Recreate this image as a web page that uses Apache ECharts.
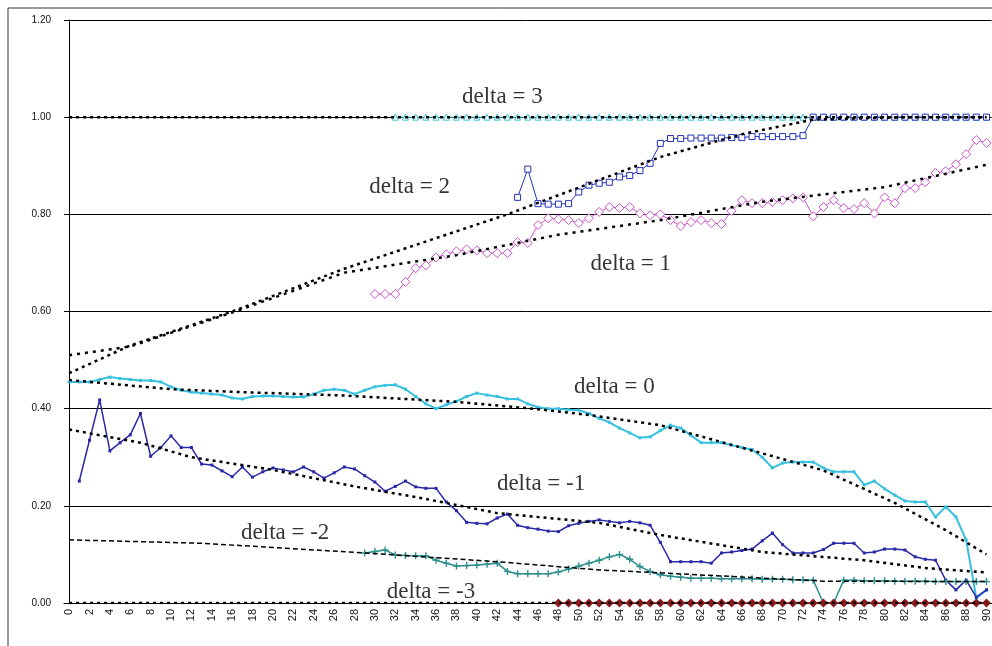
<!DOCTYPE html>
<html>
<head>
<meta charset="utf-8">
<title>delta</title>
<script src="https://cdn.jsdelivr.net/npm/echarts/dist/echarts.min.js"></script>
<style>
  html, body { margin: 0; padding: 0; background: #fff; }
  #chart { width: 992px; height: 646px; }
</style>
</head>
<body>
<div id="chart"></div>
<script>
// x categories 0..90
var xTicks = [];
for (var i = 0; i <= 90; i++) xTicks.push(String(i));

// data series (each starts at its own x)
var d3Start = 32;
var delta3 = [1.00,1.00,1.00,1.00,1.00,1.00,1.00,1.00,1.00,1.00,1.00,1.00,1.00,1.00,1.00,1.00,1.00,1.00,1.00,1.00,
  1.00,1.00,1.00,1.00,1.00,1.00,1.00,1.00,1.00,1.00,1.00,1.00,1.00,1.00,1.00,1.00,1.00,1.00,1.00,1.00,
  1.00,1.00,1.00,1.00,1.00,1.00,1.00,1.00,1.00,1.00,1.00,1.00,1.00,1.00,1.00,1.00,1.00,1.00,1.00];

var d2Start = 44;
var delta2 = [0.835,0.893,0.822,0.821,0.821,0.822,0.846,0.860,0.864,0.866,0.877,0.880,0.890,0.905,0.946,0.956,
  0.956,0.957,0.957,0.957,0.957,0.958,0.958,0.960,0.960,0.960,0.960,0.960,0.962,
  1.00,1.00,1.00,1.00,1.00,1.00,1.00,1.00,1.00,1.00,1.00,1.00,1.00,1.00,1.00,1.00,1.00,1.00];

var d1Start = 30;
var delta1 = [0.636,0.636,0.636,0.661,0.689,0.695,0.711,0.718,0.724,0.728,0.726,0.720,0.720,0.720,0.743,0.741,
  0.778,0.792,0.790,0.788,0.782,0.792,0.805,0.815,0.813,0.815,0.802,0.798,0.800,0.788,
  0.776,0.784,0.788,0.782,0.780,0.807,0.829,0.823,0.823,0.825,0.829,0.833,0.835,0.796,0.815,
  0.829,0.813,0.811,0.823,0.802,0.835,0.823,0.854,0.854,0.866,0.885,0.889,0.903,0.924,0.953,0.947];

var d0Start = 0;
var delta0 = [0.455,0.455,0.455,0.460,0.465,0.462,0.460,0.458,0.458,0.455,0.445,0.438,0.434,0.432,0.430,0.428,
  0.422,0.420,0.425,0.426,0.426,0.425,0.424,0.424,0.430,0.438,0.440,0.438,0.430,0.438,
  0.445,0.448,0.449,0.440,0.425,0.410,0.400,0.408,0.415,0.425,0.432,0.428,0.425,0.420,0.420,
  0.410,0.403,0.400,0.400,0.398,0.397,0.390,0.380,0.372,0.360,0.350,0.340,0.342,0.355,0.366,
  0.360,0.345,0.330,0.330,0.330,0.325,0.320,0.316,0.300,0.278,0.288,0.290,0.290,0.290,0.278,
  0.270,0.270,0.270,0.243,0.251,0.235,0.222,0.210,0.208,0.208,0.177,0.198,0.177,0.130,0.010,0.027];

var dm1Start = 1;
var deltaM1 = [0.251,0.335,0.418,0.313,0.330,0.346,0.390,0.302,0.320,0.344,0.320,0.320,0.286,0.284,0.272,
  0.260,0.280,0.259,0.270,0.278,0.274,0.270,0.280,0.270,0.257,0.268,0.280,0.276,0.262,
  0.249,0.230,0.240,0.251,0.239,0.236,0.236,0.208,0.190,0.166,0.164,0.163,0.175,0.183,0.160,
  0.155,0.152,0.148,0.147,0.159,0.164,0.168,0.171,0.168,0.165,0.168,0.165,0.160,0.125,0.085,
  0.085,0.085,0.085,0.082,0.103,0.105,0.108,0.111,0.128,0.144,0.120,0.103,0.103,0.103,0.110,
  0.123,0.123,0.123,0.103,0.105,0.111,0.111,0.109,0.095,0.090,0.088,0.047,0.027,0.047,0.012,0.027];

var dm2Start = 29;
var deltaM2 = [0.103,0.106,0.109,0.099,0.098,0.097,0.097,0.088,0.082,0.076,0.077,0.078,0.080,0.082,0.065,
  0.060,0.060,0.060,0.060,0.064,0.070,0.076,0.082,0.088,0.095,0.100,0.090,0.075,0.065,0.058,
  0.055,0.053,0.051,0.051,0.051,0.050,0.050,0.050,0.050,0.049,0.049,0.049,0.048,0.048,0.047,
  0.000,0.000,0.047,0.047,0.046,0.046,0.046,0.045,0.045,0.045,0.045,0.044,0.044,0.044,0.044,0.044,0.044];

var dm3Start = 48;
var deltaM3 = [0,0,0,0,0,0,0,0,0,0,0,0,0,0,0,0,0,0,0,0,0,0,0,0,0,0,0,0,0,0,0,0,0,0,0,0,0,0,0,0,0,0,0];

// trend lines, read as [x, value] knots
var trend3 = [[0, 1.00], [90, 1.00]];
var trend2 = [[0, 0.473], [6, 0.530], [16, 0.600], [27, 0.688], [43, 0.800], [58, 0.918], [66, 0.965], [73, 0.995], [82, 1.000], [90, 1.000]];
var trend1 = [[0, 0.510], [6, 0.528], [16, 0.598], [27, 0.680], [38, 0.716], [48, 0.758], [58, 0.788], [68, 0.826], [80, 0.856], [90, 0.902]];
var trend0 = [[0, 0.459], [10, 0.440], [17, 0.434], [27, 0.427], [38, 0.414], [46, 0.399], [51, 0.387], [58, 0.366], [68, 0.308], [74, 0.273], [81, 0.206], [86, 0.150], [90, 0.100]];
var trendM1 = [[0, 0.357], [7, 0.330], [12, 0.300], [20, 0.274], [28, 0.240], [34, 0.218], [37, 0.206], [42, 0.185], [52, 0.165], [58, 0.140], [68, 0.105], [78, 0.088], [84, 0.072], [90, 0.063]];
var trendM2 = [[0, 0.130], [13, 0.123], [29, 0.103], [42, 0.085], [52, 0.068], [58, 0.062], [74, 0.045], [90, 0.044]];
var trendM3 = [[0, 0.00], [90, 0.00]];

// annotation labels
var noteText = ['delta = 3', 'delta = 2', 'delta = 1', 'delta = 0', 'delta = -1', 'delta = -2', 'delta = -3'];
var noteX = [42.5, 33.4, 55.1, 53.5, 46.3, 21.2, 35.5];
var noteY = [1.041, 0.856, 0.698, 0.444, 0.245, 0.144, 0.023];

function pts(start, arr) {
  return arr.map(function (v, i) { return [start + i, v]; });
}

function dataLine(name, start, arr, color, width, symbol, size, hollow) {
  return {
    name: name, type: 'line', data: pts(start, arr),
    symbol: symbol, symbolSize: size, showSymbol: true, showAllSymbol: true,
    lineStyle: { color: color, width: width },
    itemStyle: hollow ? { color: '#fff', borderColor: color, borderWidth: 1 } : { color: color, borderColor: color, borderWidth: 0 },
    z: 2, animation: false
  };
}

function trendLine(data, width, dash) {
  return {
    type: 'line', data: data, symbol: 'none', silent: true,
    lineStyle: { color: '#000', width: width, type: dash },
    z: 3, animation: false
  };
}

var chart = echarts.init(document.getElementById('chart'));
chart.setOption({
  backgroundColor: '#fff',
  grid: { left: 64, right: 0, top: 20, bottom: 43 },
  graphic: [{
    type: 'rect', shape: { x: 8, y: 8, width: 1000, height: 700 },
    style: { fill: 'none', stroke: '#333', lineWidth: 1 }, silent: true
  }],
  xAxis: [{
    type: 'category', data: xTicks, boundaryGap: true,
    axisLine: { lineStyle: { color: '#000', width: 1 } },
    axisTick: { show: false },
    axisLabel: { interval: 1, rotate: 90, fontSize: 11, color: '#111', fontFamily: 'Liberation Sans', margin: 6 },
    splitLine: { show: false }
  }, {
    type: 'value', min: -0.5, max: 90.5, show: false
  }],
  yAxis: {
    type: 'value', min: 0, max: 1.2, interval: 0.2,
    axisLine: { show: true, lineStyle: { color: '#000', width: 1 } },
    axisTick: { show: false },
    axisLabel: { formatter: function (v) { return v.toFixed(2); }, fontSize: 10, color: '#111', fontFamily: 'Liberation Sans', margin: 13 },
    splitLine: { lineStyle: { color: '#000', width: 1 } }
  },
  series: [
    dataLine('delta3', d3Start, delta3, '#3cc6d6', 1, 'triangle', 6, true),
    dataLine('delta2', d2Start, delta2, '#2233bb', 1, 'rect', 6, true),
    dataLine('delta1', d1Start, delta1, '#cc55cc', 1, 'diamond', 9, true),
    dataLine('delta0', d0Start, delta0, '#38c0e0', 2, 'rect', 3, false),
    dataLine('delta-1', dm1Start, deltaM1, '#2828a8', 1.5, 'rect', 3, false),
    dataLine('delta-2', dm2Start, deltaM2, '#2e8e8e', 1.5, 'path://M4,0H6V4H10V6H6V10H4V6H0V4H4Z', 7, false),
    dataLine('delta-3', dm3Start, deltaM3, '#8b1a1a', 1.5, 'diamond', 9, false),
    trendLine(trend3, 2.5, [3, 4]),
    trendLine(trend2, 2.5, [3, 4]),
    trendLine(trend1, 2.5, [3, 5]),
    trendLine(trend0, 2.5, [3, 4]),
    trendLine(trendM1, 2.5, [3, 4]),
    trendLine(trendM2, 1.5, [5, 3]),
    trendLine(trendM3, 2.5, [3, 4]),
    {
      type: 'scatter', xAxisIndex: 1, yAxisIndex: 0, symbolSize: 1, silent: true, z: 5,
      itemStyle: { color: 'rgba(0,0,0,0)' },
      data: noteText.map(function (t, i) { return { value: [noteX[i], noteY[i]], name: t }; }),
      label: {
        show: true, position: 'inside', formatter: function (p) { return p.name; },
        fontFamily: 'Liberation Serif', fontSize: 23, color: '#000',
        backgroundColor: 'rgba(0,0,0,0)'
      },
      animation: false
    }
  ]
});
</script>
</body>
</html>
